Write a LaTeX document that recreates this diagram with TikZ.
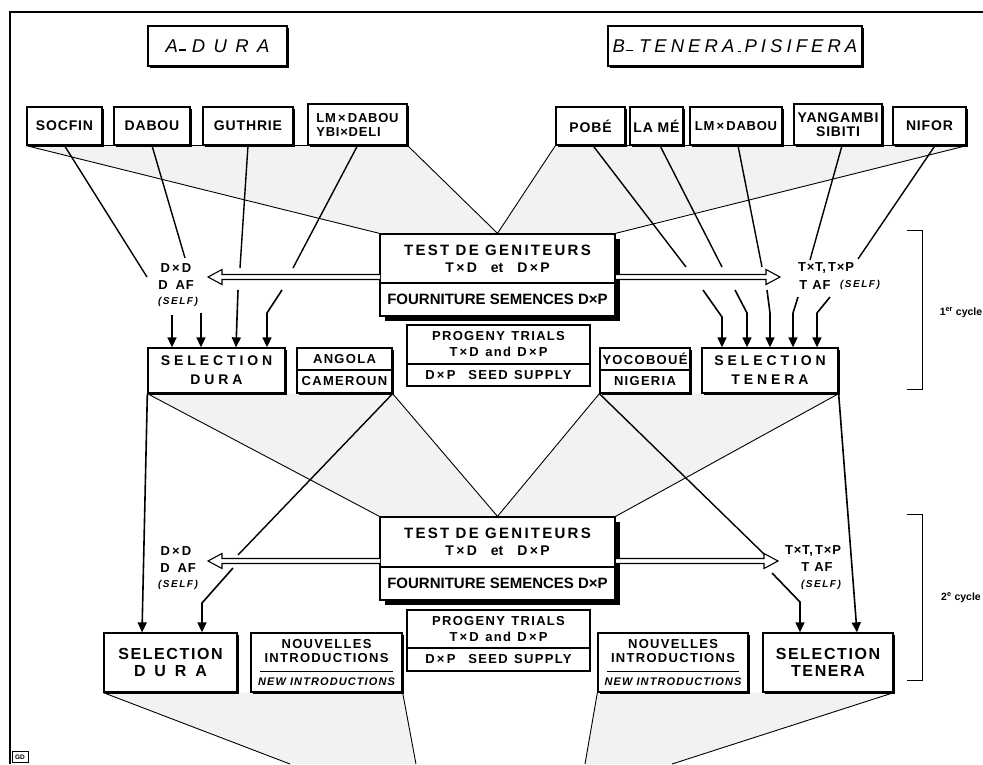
\documentclass[tikz,border=0pt]{standalone}
\usepackage{fontspec}
\setmainfont{Liberation Sans}
\newfontfamily\fA[LetterSpace=45]{Liberation Sans}
\newfontfamily\fB[LetterSpace=22]{Liberation Sans}
\newfontfamily\fS[LetterSpace=10]{Liberation Sans}
\newfontfamily\fT[LetterSpace=6]{Liberation Sans}
\newfontfamily\fM[LetterSpace=15]{Liberation Sans}
\newfontfamily\fW[LetterSpace=28]{Liberation Sans}
\usetikzlibrary{arrows.meta,shadows,calc,backgrounds}
\newcommand\ldash{\hspace{1pt}\rule[1.5pt]{7pt}{1.3pt}\hspace{6pt}}
\newcommand\sdash{\rule[0pt]{3pt}{1.3pt}\hspace{4pt}}
\tikzset{
  every node/.style={inner sep=0pt, align=center},
  hdr/.style={draw, line width=1.3pt, fill=white, drop shadow={shadow xshift=2pt, shadow yshift=-2pt, opacity=1, fill=black}},
  bx/.style={draw, line width=1.3pt, fill=white, drop shadow={shadow xshift=1.5pt, shadow yshift=-1.5pt, opacity=1, fill=black}},
  tb/.style={draw, line width=1.3pt, fill=white, drop shadow={shadow xshift=5pt, shadow yshift=-5pt, opacity=1, fill=black}},
  pb/.style={draw, line width=1.1pt, fill=white},
  trow/.style={bx, minimum height=38pt, font=\fT\bfseries\fontsize{14}{14}\selectfont},
  selA/.style={bx, minimum height=45pt, font=\fW\bfseries\fontsize{14}{19}\selectfont},
  selB/.style={bx, minimum height=59pt, font=\fS\bfseries\fontsize{16}{17}\selectfont},
  small/.style={bx, font=\fS\bfseries\fontsize{13}{14}\selectfont},
  nouv/.style={bx, minimum height=59pt, font=\fS\bfseries\fontsize{13}{14}\selectfont},
  lab/.style={font=\fT\bfseries\fontsize{13}{14}\selectfont},
  self/.style={font=\fM\bfseries\itshape\fontsize{10}{11}\selectfont},
  conn/.style={line width=1.4pt},
  fedge/.style={line width=0.9pt},
  ftop/.style={line width=0.6pt},
  arr/.style={line width=1.6pt, -{Triangle[length=10pt, width=9pt]}},
  dbl/.style={draw, line width=1.1pt, fill=white, line join=miter},
  stip/.style={fill=black!5},
  brk/.style={line width=1pt},
  cyc/.style={font=\bfseries\fontsize{10.5}{11}\selectfont}
}
\begin{document}
\begin{tikzpicture}[x=1pt,y=-1pt]
\useasboundingbox (0,0) rectangle (983,764);
\draw[line width=2pt] (10,764) -- (10,12) -- (983,12);

% headers
\node[hdr, minimum width=139pt, minimum height=40pt, font=\fA\itshape\fontsize{18.5}{20}\selectfont] (adura) at (217.5,46) {A\ldash DURA};
\node[hdr, minimum width=254pt, minimum height=40pt, font=\fB\itshape\fontsize{18.5}{20}\selectfont] (btp) at (735,46) {B\ldash TENERA\,\sdash PISIFERA};

% top row
\node[trow, minimum width=75pt] (socfin) at (64.5,126) {SOCFIN};
\node[trow, minimum width=76pt] (dabou) at (152,126) {DABOU};
\node[trow, minimum width=90pt] (guthrie) at (248,126) {GUTHRIE};
\node[trow, minimum width=99pt, minimum height=41pt, align=left, font=\fT\bfseries\fontsize{13}{14}\selectfont] (lmdabou) at (357.5,124.5) {LM\,×\,DABOU\\YBI×DELI};
\node[trow, minimum width=69pt] (pobe) at (590.5,126) {POBÉ};
\node[trow, minimum width=53pt] (lame) at (656.5,126) {LA MÉ};
\node[trow, minimum width=92pt, font=\fT\bfseries\fontsize{13}{14}\selectfont] (lmdabou2) at (736,126) {LM\,×\,DABOU};
\node[trow, minimum width=88pt, minimum height=41pt] (yangambi) at (838,124.5) {YANGAMBI\\SIBITI};
\node[trow, minimum width=73pt] (nifor) at (929.5,126) {NIFOR};

% cycle 1 centre
\node[tb, minimum width=235pt, minimum height=49pt, font=\bfseries\fontsize{14}{17}\selectfont] (test1) at (497.5,258.5) {{\fM\bfseries\fontsize{15}{17}\selectfont TEST DE GENITEURS}\\T\,×\,D\quad et\quad D\,×\,P};
\node[tb, minimum width=235pt, minimum height=33pt, font=\bfseries\fontsize{15}{17}\selectfont] (four1) at (497.5,299.5) {FOURNITURE SEMENCES D×P};
\node[pb, minimum width=183pt, minimum height=39pt, font=\fS\bfseries\fontsize{13}{16}\selectfont] (prog1) at (498.5,344.5) {PROGENY\enspace TRIALS\\T\,×\,D\enspace and\enspace D\,×\,P};
\node[pb, minimum width=183pt, minimum height=22pt, font=\fS\bfseries\fontsize{13}{14}\selectfont] (seed1) at (498.5,375) {D\,×\,P\quad SEED\enspace SUPPLY};

% cycle 1 selections
\node[selA, minimum width=137pt] (seldura1) at (216.5,370.5) {SELECTION\\DURA};
\node[small, minimum width=95pt, minimum height=22pt] (angola) at (344.5,359) {ANGOLA};
\node[small, minimum width=95pt, minimum height=23pt] (cameroun) at (344.5,381.5) {CAMEROUN};
\node[small, minimum width=90pt, minimum height=22pt] (yocoboue) at (645,359) {YOCOBOUÉ};
\node[small, minimum width=90pt, minimum height=23pt] (nigeria) at (645,381.5) {NIGERIA};
\node[selA, minimum width=136pt] (seltenera1) at (770,370.5) {SELECTION\\TENERA};

% cycle 2 centre
\node[tb, minimum width=235pt, minimum height=50pt, font=\bfseries\fontsize{14}{17}\selectfont] (test2) at (497.5,542) {{\fM\bfseries\fontsize{15}{17}\selectfont TEST DE GENITEURS}\\T\,×\,D\quad et\quad D\,×\,P};
\node[tb, minimum width=235pt, minimum height=33pt, font=\bfseries\fontsize{15}{17}\selectfont] (four2) at (497.5,583.5) {FOURNITURE SEMENCES D×P};
\node[pb, minimum width=183pt, minimum height=38pt, font=\fS\bfseries\fontsize{13}{16}\selectfont] (prog2) at (498.5,629) {PROGENY\enspace TRIALS\\T\,×\,D\enspace and\enspace D\,×\,P};
\node[pb, minimum width=183pt, minimum height=23pt, font=\fS\bfseries\fontsize{13}{14}\selectfont] (seed2) at (498.5,659.5) {D\,×\,P\quad SEED\enspace SUPPLY};

% cycle 2 selections
\node[selB, minimum width=133pt] (seldura2) at (170.5,662.5) {SELECTION\\{\fW D U R A}};
\node[nouv, minimum width=151pt] (nouv1) at (326.5,662.5) {NOUVELLES\\INTRODUCTIONS\\[9pt]{\itshape\fontsize{11}{12}\selectfont NEW INTRODUCTIONS}};
\node[nouv, minimum width=150pt] (nouv2) at (673,662.5) {NOUVELLES\\INTRODUCTIONS\\[9pt]{\itshape\fontsize{11}{12}\selectfont NEW INTRODUCTIONS}};
\node[selB, minimum width=130pt] (seltenera2) at (828,662.5) {SELECTION\\TENERA};
\draw[line width=1pt] ([xshift=10pt,yshift=-8.5pt]nouv1.west) -- ([xshift=-10pt,yshift=-8.5pt]nouv1.east);
\draw[line width=1pt] ([xshift=10pt,yshift=-8.5pt]nouv2.west) -- ([xshift=-10pt,yshift=-8.5pt]nouv2.east);

% side labels
\node[lab] (dd1) at (176,268) {D\,×\,D};
\node[lab] (daf1) at (176,285) {D\hspace{8pt}AF};
\node[self] (self1) at (178,302) {(SELF)};
\node[lab] (tt1) at (826,268) {T×T,\,T×P};
\node[lab] (taf1) at (815,285) {T\hspace{5pt}AF};
\node[self] (tself1) at (860,285) {(SELF)};
\node[lab] (dd2) at (176,551) {D\,×\,D};
\node[lab] (daf2) at (178,568) {D\hspace{8pt}AF};
\node[self] (self2) at (178,585) {(SELF)};
\node[lab] (tt2) at (813,551) {T×T,\,T×P};
\node[lab] (taf2) at (817,567) {T\hspace{5pt}AF};
\node[self] (tself2) at (821,585) {(SELF)};

% brackets
\draw[brk] (907,230) -- (922,230) -- (922,389) -- (907,389);
\node[cyc] (c1) at (961,313) {1\textsuperscript{er} cycle};
\draw[brk] (907,514) -- (922,514) -- (922,680) -- (907,680);
\node[cyc] (c2) at (961,598) {2\textsuperscript{e} cycle};

\node[draw, line width=0.8pt, minimum width=16pt, minimum height=11pt, font=\bfseries\fontsize{6.5}{7}\selectfont] (gd) at (20,757) {GD};

% free ends
\coordinate (b1l) at (290,764);
\coordinate (b1r) at (416,764);
\coordinate (b2l) at (585,764);
\coordinate (b2r) at (672,764);

% stippled funnels
\begin{pgfonlayer}{background}
\fill[stip] (socfin.south west) -- (lmdabou.south east) -- (test1.north) -- (test1.north west) -- cycle;
\fill[stip] (pobe.south west) -- (nifor.south east) -- (test1.north east) -- (test1.north) -- cycle;
\fill[stip] (seldura1.south west) -- (cameroun.south east) -- (test2.north) -- (test2.north west) -- cycle;
\fill[stip] (nigeria.south west) -- (seltenera1.south east) -- (test2.north east) -- (test2.north) -- cycle;
\fill[stip] (seldura2.south west) -- (nouv1.south east) -- (b1r) -- (b1l) -- cycle;
\fill[stip] (nouv2.south west) -- (seltenera2.south east) -- (b2r) -- (b2l) -- cycle;
\end{pgfonlayer}

% funnel edges
\draw[ftop] (socfin.south west) -- (lmdabou.south east);
\draw[ftop] (pobe.south west) -- (nifor.south east);
\draw[fedge] (socfin.south west) -- (test1.north west);
\draw[fedge] (lmdabou.south east) -- (test1.north);
\draw[fedge] (pobe.south west) -- (test1.north);
\draw[fedge] (nifor.south east) -- (test1.north east);
\draw[fedge] (seldura1.south west) -- (test2.north west);
\draw[fedge] (cameroun.south east) -- (test2.north);
\draw[fedge] (nigeria.south west) -- (test2.north);
\draw[fedge] (seltenera1.south east) -- (test2.north east);
\draw[fedge] (seldura2.south west) -- (b1l);
\draw[fedge] (nouv1.south east) -- (b1r);
\draw[fedge] (nouv2.south west) -- (b2l);
\draw[fedge] (seltenera2.south east) -- (b2r);

% cycle 1 connectors, left
\coordinate (eSoc) at (147,277);
\coordinate (eDab) at (185,258);
\coordinate (eGut) at (240,268);
\coordinate (eLmd) at (293,268);
\draw[conn] (socfin.south) -- (eSoc);
\draw[conn] (dabou.south) -- (eDab);
\draw[conn] (guthrie.south) -- (eGut);
\draw[conn] (lmdabou.south) -- (eLmd);
\coordinate (sA1) at (172,315);
\coordinate (sA2) at (201,313);
\coordinate (sA3) at (238,290);
\coordinate (sA4) at (282,290);
\coordinate (kA4) at (267,313);
\draw[arr] (sA1) -- (sA1 |- seldura1.north);
\draw[arr] (sA2) -- (sA2 |- seldura1.north);
\draw[arr] (sA3) -- ([xshift=19.5pt]seldura1.north);
\draw[arr] (sA4) -- (kA4) -- (kA4 |- seldura1.north);

% cycle 1 connectors, right
\coordinate (ePob) at (686,267);
\coordinate (eLam) at (722,267);
\coordinate (eLm2) at (762,267);
\coordinate (eYan) at (810,260);
\coordinate (eNif) at (858,259);
\draw[conn] ([xshift=2.5pt]pobe.south) -- (ePob);
\draw[conn] ([xshift=3.5pt]lame.south) -- (eLam);
\draw[conn] ([xshift=2pt]lmdabou2.south) -- (eLm2);
\draw[conn] ([xshift=4pt]yangambi.south) -- (eYan);
\draw[conn] ([xshift=5.5pt]nifor.south) -- (eNif);
\coordinate (sB1) at (703,290); \coordinate (kB1) at (722,317);
\coordinate (sB2) at (735,290); \coordinate (kB2) at (747,313);
\coordinate (sB3) at (767,290); \coordinate (kB3) at (770,313);
\coordinate (sB4) at (798,297); \coordinate (kB4) at (793,313);
\coordinate (sB5) at (830,297); \coordinate (kB5) at (817,313);
\draw[arr] (sB1) -- (kB1) -- (kB1 |- seltenera1.north);
\draw[arr] (sB2) -- (kB2) -- (kB2 |- seltenera1.north);
\draw[arr] (sB3) -- (kB3) -- (kB3 |- seltenera1.north);
\draw[arr] (sB4) -- (kB4) -- (kB4 |- seltenera1.north);
\draw[arr] (sB5) -- (kB5) -- (kB5 |- seltenera1.north);

% cycle 2 connectors
\coordinate (eCam) at (238,555);
\coordinate (sC) at (233,568); \coordinate (kC) at (202,603);
\coordinate (eNig) at (765,555);
\coordinate (sD) at (772,573); \coordinate (kD) at (800,602);
\draw[arr] (seldura1.south west) -- ([xshift=-28.5pt]seldura2.north);
\draw[conn] (cameroun.south east) -- (eCam);
\draw[arr] (sC) -- (kC) -- (kC |- seldura2.north);
\draw[conn] (nigeria.south west) -- (eNig);
\draw[arr] (sD) -- (kD) -- (kD |- seltenera2.north);
\draw[arr] (seltenera1.south east) -- ([xshift=29pt]seltenera2.north);

% double open arrows
\draw[dbl] (380,274.5) -- (222,274.5) -- (222,269.5) -- (208,277) -- (222,284.5) -- (222,279.5) -- (380,279.5);
\draw[dbl] (616,274.5) -- (766,274.5) -- (766,269.5) -- (780,277) -- (766,284.5) -- (766,279.5) -- (616,279.5);
\draw[dbl] (380,558.5) -- (222,558.5) -- (222,553.5) -- (208,561) -- (222,568.5) -- (222,563.5) -- (380,563.5);
\draw[dbl] (616,558.5) -- (764,558.5) -- (764,553.5) -- (778,561) -- (764,568.5) -- (764,563.5) -- (616,563.5);
\end{tikzpicture}
\end{document}
